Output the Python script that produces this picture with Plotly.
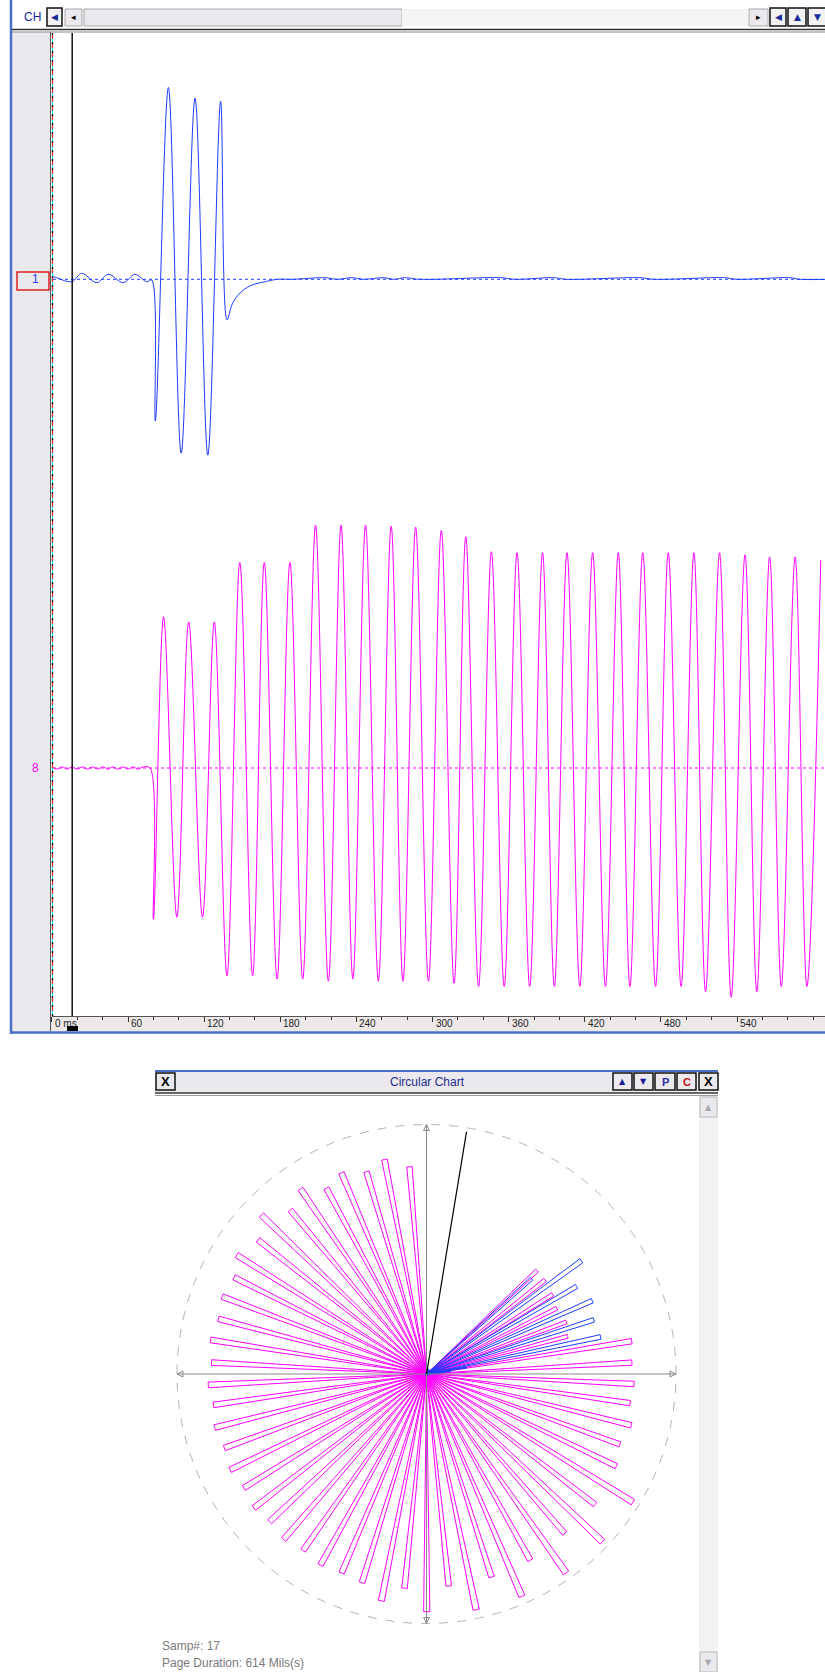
import plotly.graph_objects as go

W, H = 825, 1672

# ---------------- data ----------------
page_duration_ms = 614
cursor_ms = 16
sample_no = 17

tick_values = [0, 60, 120, 180, 240, 300, 360, 420, 480, 540]
tick_labels = ["0 ms", "60", "120", "180", "240", "300", "360", "420", "480", "540"]

# channel 1 (blue): time of turning points (ms) and deviation from baseline
ch1_t = [0, 1.1, 15.6, 23.5, 35.3, 44.4, 56.3, 65.5, 74.7, 78.6,
         81.5, 91.8, 101.9, 112.8, 122.9, 133.0, 138.0, 142.2, 148.1, 156.5, 169.1, 177.5,
         190, 215, 225, 236, 246, 261, 270, 278, 290, 354, 365, 396, 405, 463, 475, 530, 540, 581, 590, 612]
ch1_v = [2.0, 2.4, -2.3, 5.6, -3.2, 4.7, -3.2, 4.7, -2.3, -0.7,
         -133, 180, -163, 170, -165, 167, -38, -23, -13, -6, -2, 0,
         0, 1.5, 0, 1.5, 0, 1.5, 0, 1.5, 0, 1.5, 0, 1.5, 0, 1.5, 0, 1.5, 0, 1.5, 0, 0]

# channel 8 (magenta)
ch8_t = [0, 4, 8, 12, 16, 20, 24, 28, 32, 36, 40, 44, 48, 52, 56, 60, 64, 68, 72, 77.4,
         80, 88, 98.5, 107.8, 118.7, 128, 138, 148.1, 158.2, 167.4, 177.5, 187.6, 197.7, 207.8,
         217.9, 227.9, 237.2, 247.2, 257.3, 267.4, 276.7, 286.7, 296.8, 306.9, 317, 326.2,
         336.3, 346.4, 356.5, 366.6, 376.6, 386.7, 396, 406, 416.1, 426.2, 436.3, 446.4,
         455.6, 465.7, 475.8, 485.8, 495.9, 506, 515.2, 526.2, 535.4, 546.3, 555.6, 565.7,
         574.9, 585.8, 595.1, 606]
ch8_v = [1, -1, 1, -1, 1, -1, 1, -1, 1, -1, 1, -1, 1, -1, 1, -1, 1, -1, 1, 0,
         -142, 142, -140, 137, -140, 137, -195, 193, -195, 193, -198, 193, -198, 228,
         -200, 228, -198, 228, -200, 227, -200, 226, -200, 223, -202, 217,
         -205, 203, -205, 202, -205, 202, -205, 202, -205, 202, -205, 202,
         -205, 202, -205, 202, -205, 202, -210, 202, -215, 200, -210, 198,
         -205, 198, -205, 195]

BLUE = "#1E3CFF"
MAGENTA = "#FF00FF"

# ---------------- layout geometry (pixels) ----------------
def px(x):
    return x / W

def py(y):
    return 1 - y / H

K = 1.06589              # screen px per value unit
PLOT_L, PLOT_R = 51.9, 825
PLOT_T, PLOT_B = 33, 1016
MS_PX = 1.26875          # px per ms
BASE1, BASE8 = 279.3, 768.0

x_range = [0, (PLOT_R - PLOT_L) / MS_PX]
y1_range = [-(PLOT_B - BASE1) / K, (BASE1 - PLOT_T) / K]
y8_range = [-(PLOT_B - BASE8) / K, (BASE8 - PLOT_T) / K]

CX, CY, CR = 426.5, 1374.0, 249.5
R_UNITS = CR / K
PAD = 1.02
DR = CR * PAD
PETAL_W = 1.5

def to_theta(ts):
    return [t * 360.0 / page_duration_ms for t in ts]

fig = go.Figure()

# top traces
fig.add_trace(go.Scatter(x=ch1_t, y=ch1_v, mode="lines", xaxis="x", yaxis="y",
                         line=dict(color=BLUE, width=1, shape="spline", smoothing=1),
                         hoverinfo="skip", showlegend=False))
fig.add_trace(go.Scatter(x=ch8_t, y=ch8_v, mode="lines", xaxis="x", yaxis="y2",
                         line=dict(color=MAGENTA, width=1, shape="spline", smoothing=1),
                         hoverinfo="skip", showlegend=False))

# polar: axes with arrowheads
AX = "#8a8a8a"
fig.add_trace(go.Scatterpolar(r=[R_UNITS, R_UNITS], theta=[0, 180], mode="lines+markers",
                              line=dict(color=AX, width=1),
                              marker=dict(symbol=["arrow-up-open", "arrow-down-open"], size=6,
                                          color=AX, line=dict(color=AX, width=1)),
                              hoverinfo="skip", showlegend=False))
fig.add_trace(go.Scatterpolar(r=[R_UNITS, R_UNITS], theta=[90, 270], mode="lines+markers",
                              line=dict(color=AX, width=1),
                              marker=dict(symbol=["arrow-right-open", "arrow-left-open"], size=6,
                                          color=AX, line=dict(color=AX, width=1)),
                              hoverinfo="skip", showlegend=False))

# polar petals
fig.add_trace(go.Barpolar(r=[abs(v) for v in ch8_v], theta=to_theta(ch8_t), width=PETAL_W,
                          marker=dict(color="rgba(0,0,0,0)", line=dict(color=MAGENTA, width=1)),
                          hoverinfo="skip", showlegend=False))
fig.add_trace(go.Barpolar(r=[abs(v) for v in ch1_v], theta=to_theta(ch1_t), width=PETAL_W,
                          marker=dict(color="rgba(0,0,0,0)", line=dict(color=BLUE, width=1)),
                          hoverinfo="skip", showlegend=False))
# cursor
fig.add_trace(go.Scatterpolar(r=[0, R_UNITS * 0.985], theta=to_theta([cursor_ms, cursor_ms]),
                              mode="lines", line=dict(color="black", width=1.2),
                              hoverinfo="skip", showlegend=False))

shapes = []
annotations = []

def rect(x0, y0, x1, y1, fill=None, line=None, lw=1, layer="below"):
    shapes.append(dict(type="rect", xref="paper", yref="paper",
                       x0=px(x0), x1=px(x1), y0=py(y1), y1=py(y0),
                       fillcolor=fill if fill else "rgba(0,0,0,0)",
                       line=dict(color=line if line else "rgba(0,0,0,0)", width=lw if line else 0),
                       layer=layer))

def hline(x0, x1, y, color, width=1, dash="solid", layer="above"):
    shapes.append(dict(type="line", xref="paper", yref="paper", x0=px(x0), x1=px(x1),
                       y0=py(y), y1=py(y), line=dict(color=color, width=width, dash=dash), layer=layer))

def vline(x, y0, y1, color, width=1, dash="solid", layer="above"):
    shapes.append(dict(type="line", xref="paper", yref="paper", x0=px(x), x1=px(x),
                       y0=py(y0), y1=py(y1), line=dict(color=color, width=width, dash=dash), layer=layer))

def text(x, y, s, size=12, color="black", anchor="center", family="Liberation Sans", bold=False):
    annotations.append(dict(xref="paper", yref="paper", x=px(x), y=py(y), text=("<b>%s</b>" % s) if bold else s,
                            showarrow=False, xanchor=anchor, yanchor="middle",
                            font=dict(size=size, color=color, family=family)))

GREY = "#ECE9EE"
BORDER_BLUE = "#4A6FC8"

# ---- top panel chrome ----
rect(12, 32, 50, 1031, fill=GREY)                 # left gutter
rect(50, 1016, 825, 1031, fill="#ECE9E8")         # axis band
vline(50.5, 32, 1031, "#555555", 1)
vline(11, 0, 1034, BORDER_BLUE, 2.5)
hline(10, 825, 1032.5, BORDER_BLUE, 2.5)
hline(12, 825, 29.5, "#333333", 1.5)
hline(12, 825, 32, "#888888", 1)
# t=0 multicoloured dashed line
vline(52.5, 33, 1016, "#00E5FF", 1.2)
vline(52.5, 33, 1016, "#FF2020", 1.2, dash="6px,3px")
vline(52.5, 33, 1016, "#000000", 1.2, dash="2px,7px")
# cursor marker at bottom
rect(67, 1026, 78, 1031, fill="black", layer="above")

# toolbar
text(32, 17, "CH", 12, "#1A2A9A")
rect(47, 8, 62, 26, fill="#F2F2F2", line="#111111", lw=1.5)
text(54.5, 17, "◀", 9, "#1A2A9A", family="DejaVu Sans")
rect(65, 9, 82, 26, fill=GREY, line="#A8A8A8")
text(73.5, 17.5, "◂", 9, "black", family="DejaVu Sans")
rect(84, 9, 402, 26, fill=GREY, line="#A8A8A8")
rect(402, 9, 748, 26, fill="#F4F4F4")
rect(749, 9, 768, 26, fill=GREY, line="#A8A8A8")
text(758.5, 17.5, "▸", 9, "black", family="DejaVu Sans")
for (x0, x1, g) in [(770, 786, "◀"), (788, 806, "▲"), (808, 826, "▼")]:
    rect(x0, 8, x1, 26, fill="#F2F2F2", line="#111111", lw=1.5)
    text((x0 + x1) / 2, 17, g, 9, "#1A2A9A", family="DejaVu Sans")

# channel labels
rect(17, 272, 49, 290, line="#E02020", lw=1.5, layer="above")
annotations.append(dict(xref="paper", yref="y", x=px(35.5), y=0, text="1", showarrow=False,
                        xanchor="center", yanchor="middle",
                        font=dict(size=12, color=BLUE, family="Liberation Sans")))
annotations.append(dict(xref="paper", yref="y2", x=px(35.5), y=0, text="8", showarrow=False,
                        xanchor="center", yanchor="middle",
                        font=dict(size=12, color=MAGENTA, family="Liberation Sans")))

# baselines
shapes.append(dict(type="line", xref="paper", yref="y", x0=px(53), x1=1, y0=0, y1=0,
                   line=dict(color=BLUE, width=1, dash="dot"), layer="below"))
shapes.append(dict(type="line", xref="paper", yref="y2", x0=px(53), x1=1, y0=0, y1=0,
                   line=dict(color=MAGENTA, width=1, dash="dot"), layer="below"))
# cursor line
shapes.append(dict(type="line", xref="x", yref="paper", x0=cursor_ms, x1=cursor_ms,
                   y0=py(PLOT_B), y1=py(PLOT_T), line=dict(color="#111111", width=1.5), layer="above"))

# tick labels
for v, s in zip(tick_values, tick_labels):
    annotations.append(dict(xref="x", yref="paper", x=v, y=py(1023.5), text=s, showarrow=False,
                            xanchor="left", yanchor="middle", xshift=1,
                            font=dict(size=10, color="#222222", family="Liberation Sans")))

# ---- circular chart window ----
rect(155, 1071, 718, 1092, fill=GREY)
hline(155, 718, 1071, BORDER_BLUE, 2)
hline(155, 718, 1093, "#333333", 1.5)
hline(155, 718, 1095.5, "#999999", 1)
rect(156, 1073, 175, 1090, fill=GREY, line="#111111", lw=1.5)
text(165.5, 1081.5, "X", 13, "black", bold=True)
text(427, 1082, "Circular Chart", 12, "#1C2C8C")
for (x0, x1, g, c) in [(613, 632, "▲", "#1A1A9A"), (634, 653, "▼", "#1A1A9A"),
                       (655, 675, "P", "#2A2AA0"), (677, 696, "C", "#C01010"), (699, 718, "X", "black")]:
    rect(x0, 1073, x1, 1090, fill=GREY, line="#111111", lw=1.5)
    if g in "▲▼":
        text((x0 + x1) / 2, 1081.5, g, 8, c, family="DejaVu Sans")
    else:
        text((x0 + x1) / 2, 1081.5, g, 11 if g != "X" else 13, c, bold=True)
rect(699, 1096, 718, 1672, fill="#F2F2F2")
rect(700, 1097, 717, 1117, fill=GREY, line="#B8B8B8")
text(708.5, 1107, "▲", 8, "#A8A8A8", family="DejaVu Sans")
rect(700, 1652, 717, 1672, fill=GREY, line="#B8B8B8")
text(708.5, 1662, "▼", 8, "#A8A8A8", family="DejaVu Sans")

annotations.append(dict(xref="paper", yref="paper", x=px(160), y=py(1646), text="Samp#: %d" % sample_no,
                        showarrow=False, xanchor="left", yanchor="middle",
                        font=dict(size=12, color="#7A7A7A", family="Liberation Sans")))
annotations.append(dict(xref="paper", yref="paper", x=px(160), y=py(1663),
                        text="Page Duration: %d Mils(s)" % page_duration_ms,
                        showarrow=False, xanchor="left", yanchor="middle",
                        font=dict(size=12, color="#7A7A7A", family="Liberation Sans")))

fig.update_layout(
    width=W, height=H, margin=dict(l=0, r=0, t=0, b=0),
    paper_bgcolor="white", plot_bgcolor="rgba(0,0,0,0)",
    showlegend=False, hovermode=False,
    xaxis=dict(domain=[px(PLOT_L), 1], range=x_range, anchor="y",
               showline=True, linecolor="#555555", linewidth=1,
               ticks="outside", ticklen=5, tickcolor="#333333", tickwidth=1,
               tickmode="array", tickvals=tick_values, showticklabels=False,
               minor=dict(tick0=0, dtick=20, ticks="outside", ticklen=3, tickcolor="#333333"),
               showgrid=False, zeroline=False, fixedrange=True),
    yaxis=dict(domain=[py(PLOT_B), py(PLOT_T)], range=y1_range, visible=False, fixedrange=True),
    yaxis2=dict(domain=[py(PLOT_B), py(PLOT_T)], range=y8_range, overlaying="y", visible=False,
                fixedrange=True),
    polar=dict(
        domain=dict(x=[px(CX - DR), px(CX + DR)], y=[py(CY + DR), py(CY - DR)]),
        bgcolor="white", barmode="overlay",
        radialaxis=dict(range=[0, R_UNITS * PAD], tickmode="array", tickvals=[R_UNITS],
                        showticklabels=False, ticks="", showline=False, showgrid=True,
                        gridcolor="#B4B4B4", griddash="dash", gridwidth=1),
        angularaxis=dict(direction="clockwise", rotation=90, showgrid=False, showline=False,
                         showticklabels=False, ticks=""),
    ),
    shapes=shapes, annotations=annotations,
)

fig.write_html("out.html", config={"displayModeBar": False, "staticPlot": True},
               post_script="document.body.style.margin='0px';document.body.style.padding='0px';"
                           "document.body.style.overflow='hidden';")
